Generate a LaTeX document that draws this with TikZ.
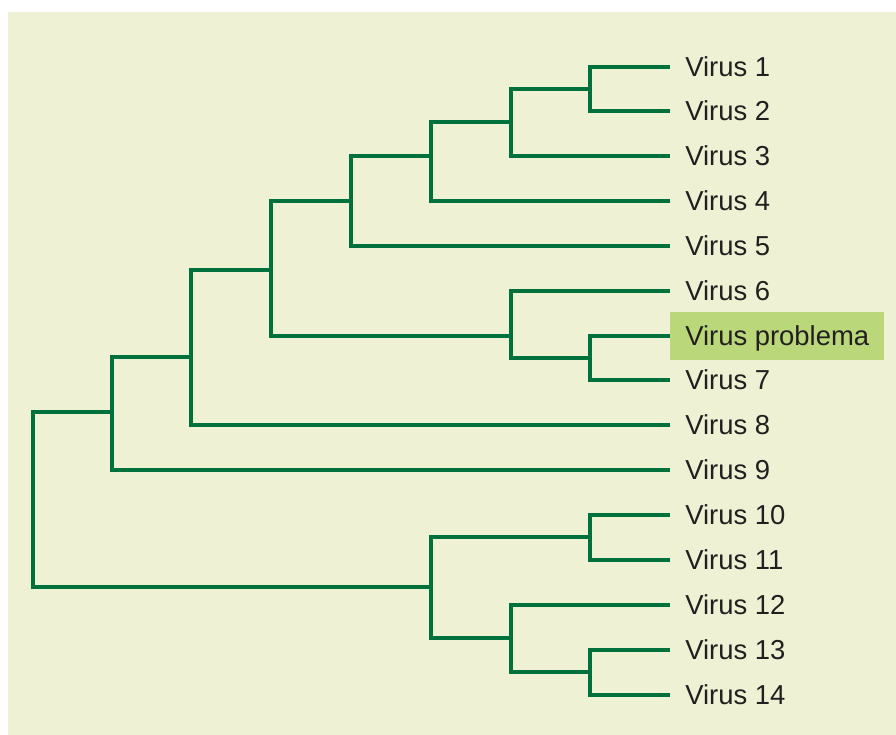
\documentclass[tikz,border=0pt]{standalone}
\usepackage{fontspec}
\setmainfont{Liberation Sans}
\definecolor{treegreen}{RGB}{0,112,60}
\definecolor{bgcream}{RGB}{238,241,211}
\definecolor{hilite}{RGB}{186,215,122}
\definecolor{labelgray}{RGB}{35,31,32}

\begin{document}
\begin{tikzpicture}[x=0.025cm, y=-0.025cm,
    leaf/.style={anchor=west, inner xsep=0.375cm, inner ysep=0pt,
                 minimum height=1.2cm, text height=14pt, text depth=0pt,
                 text=labelgray, font=\fontsize{19.5}{23}\selectfont},
    branch/.style={draw=treegreen, line width=2.8pt},
    elbow/.style={to path={|- (\tikztotarget)}}]
  \useasboundingbox (0,0) rectangle (896,735);
  \fill[bgcream] (8,12) rectangle (896,735);

  % leaves
  \node[leaf]             (v1)  at (670,67)  {Virus 1};
  \node[leaf]             (v2)  at (670,111) {Virus 2};
  \node[leaf]             (v3)  at (670,156) {Virus 3};
  \node[leaf]             (v4)  at (670,201) {Virus 4};
  \node[leaf]             (v5)  at (670,246) {Virus 5};
  \node[leaf]             (v6)  at (670,291) {Virus 6};
  \node[leaf,fill=hilite] (vp)  at (670,336) {Virus problema};
  \node[leaf]             (v7)  at (670,380) {Virus 7};
  \node[leaf]             (v8)  at (670,425) {Virus 8};
  \node[leaf]             (v9)  at (670,470) {Virus 9};
  \node[leaf]             (v10) at (670,515) {Virus 10};
  \node[leaf]             (v11) at (670,560) {Virus 11};
  \node[leaf]             (v12) at (670,605) {Virus 12};
  \node[leaf]             (v13) at (670,650) {Virus 13};
  \node[leaf]             (v14) at (670,695) {Virus 14};

  % clades
  \coordinate (n12)    at (590,89);
  \coordinate (n123)   at (511,122);
  \coordinate (n1234)  at (431,156);
  \coordinate (n12345) at (351,201);
  \coordinate (np7)    at (590,358);
  \coordinate (n6p7)   at (511,336);
  \coordinate (nA)     at (271,270);
  \coordinate (n8)     at (191,357);
  \coordinate (n9)     at (112,412);
  \coordinate (n1011)  at (590,537);
  \coordinate (n1314)  at (590,672);
  \coordinate (n1214)  at (511,638);
  \coordinate (nB)     at (431,587);
  \coordinate (root)   at (33,500);

  \path[branch, elbow]
        (n12)    edge (v1)     edge (v2)
        (n123)   edge (n12)    edge (v3)
        (n1234)  edge (n123)   edge (v4)
        (n12345) edge (n1234)  edge (v5)
        (np7)    edge (vp)     edge (v7)
        (n6p7)   edge (v6)     edge (np7)
        (nA)     edge (n12345) edge (n6p7)
        (n8)     edge (nA)     edge (v8)
        (n9)     edge (n8)     edge (v9)
        (n1011)  edge (v10)    edge (v11)
        (n1314)  edge (v13)    edge (v14)
        (n1214)  edge (v12)    edge (n1314)
        (nB)     edge (n1011)  edge (n1214)
        (root)   edge (n9)     edge (nB)
        ;
\end{tikzpicture}
\end{document}
